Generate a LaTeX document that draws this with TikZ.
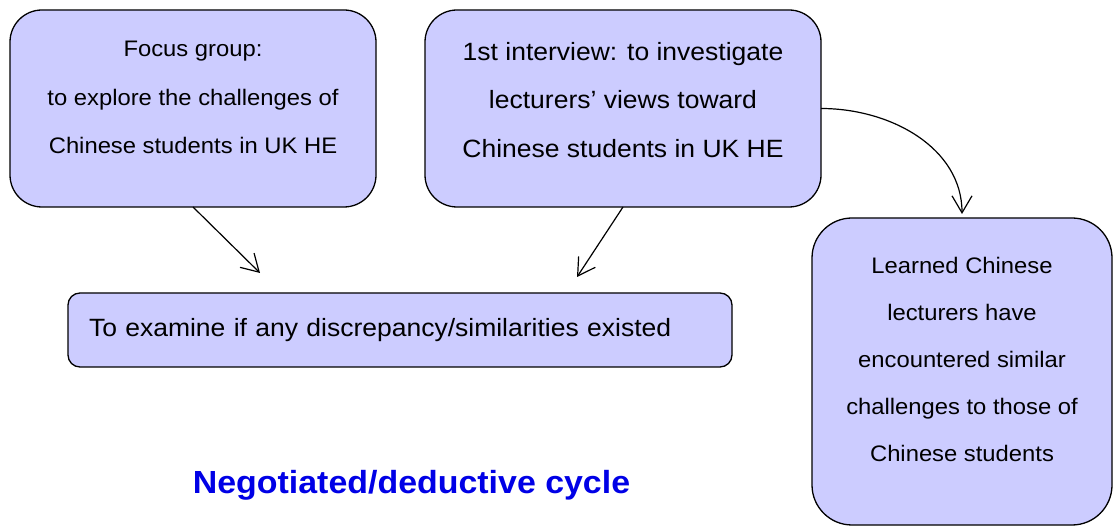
\documentclass[tikz,border=0pt]{standalone}
\usepackage{fontspec}
\setmainfont{Liberation Sans}[FakeStretch=1.06]
\usepackage{xcolor}
\usetikzlibrary{positioning,arrows.meta}
\definecolor{lav}{HTML}{CCCCFF}
\definecolor{titleblue}{RGB}{0,0,230}
% invisible strut below the last line, lifts the text inside a box
\newcommand{\padbelow}[1]{\rule[-#1]{0pt}{#1}}

\begin{document}
\begin{tikzpicture}[x=1pt,y=1pt,
  bubble/.style={draw,line width=1.3pt,fill=lav,align=center,inner sep=0pt,outer sep=0pt},
  link/.style={line width=1.2pt,-{Straight Barb[length=17pt,width=20pt]}}]
\useasboundingbox (0,0) rectangle (1115,527);
\node[bubble,rounded corners=32pt,minimum width=366pt,minimum height=197pt,font=\fontsize{22.45}{48.5}\selectfont] (focus) at (193,418.5) {Focus group:\\to explore the challenges of\\Chinese students in UK HE\padbelow{22.4pt}};
\node[bubble,rounded corners=32pt,minimum width=396pt,minimum height=197pt,font=\fontsize{25}{48.5}\selectfont,right=49pt of focus] (interview) {1st interview: to investigate\\lecturers' views toward\\Chinese students in UK HE\padbelow{17.2pt}};
\node[bubble,rounded corners=12pt,minimum height=74pt,text width=622pt,inner xsep=21pt,align=left,font=\fontsize{25}{30}\selectfont] (examine) at (400,197) {To examine if any discrepancy/similarities existed};
\node[bubble,rounded corners=40pt,minimum width=300pt,minimum height=307pt,font=\fontsize{22.45}{47}\selectfont] (learned) at (962,155.5) {Learned Chinese\\lecturers have\\encountered similar\\challenges to those of\\Chinese students\padbelow{23.4pt}};
\node[font=\fontsize{32}{38}\selectfont\bfseries,text=titleblue,anchor=base] (cycle) at (411.5,34) {Negotiated/deductive cycle};
\coordinate (focustip) at (260,254);
\coordinate (interviewtip) at (577,250);
\draw[link] (focus.south) -- (focustip);
\draw[link] (interview.south) -- (interviewtip);
\draw[link,shorten >=4pt] (interview.east) to[out=0,in=90] (learned.north);
\end{tikzpicture}
\end{document}
